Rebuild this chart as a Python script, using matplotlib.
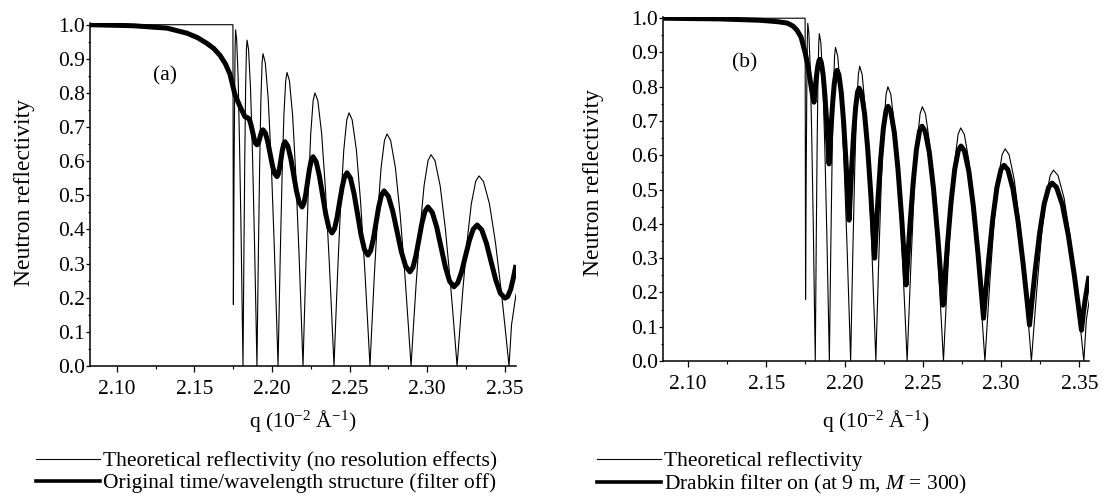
import matplotlib
matplotlib.use("Agg")
import matplotlib.pyplot as plt
from matplotlib.ticker import MultipleLocator, FormatStrFormatter
from matplotlib.lines import Line2D

plt.rcParams['font.family'] = ['Liberation Serif', 'DejaVu Serif']
plt.rcParams['mathtext.fontset'] = 'custom'
plt.rcParams['mathtext.rm'] = 'Liberation Serif'
plt.rcParams['mathtext.it'] = 'Liberation Serif:italic'

# ---------------- data ----------------
# Theoretical reflectivity (no resolution effects), q in 1e-2 1/A
theory_q = [2.0826, 2.1748, 2.1751, 2.1755, 2.1759, 2.1762, 2.1765,
            2.1772, 2.1782, 2.1791, 2.1801, 2.1808, 2.1813,
            2.18156, 2.18195, 2.18247, 2.18299, 2.18351, 2.1839,
            2.18486, 2.18614, 2.18742, 2.18870, 2.18966, 2.1903,
            2.19069, 2.19128, 2.19206, 2.19284, 2.19362, 2.1942,
            2.19566, 2.19760, 2.19954, 2.20148, 2.20293, 2.2039,
            2.20448, 2.20535, 2.20651, 2.20767, 2.20883, 2.2097,
            2.21125, 2.21331, 2.21537, 2.21743, 2.21897, 2.2200,
            2.22077, 2.22193, 2.22347, 2.22501, 2.22655, 2.2277,
            2.22955, 2.23201, 2.23447, 2.23693, 2.23877, 2.2400,
            2.24097, 2.24243, 2.24437, 2.24631, 2.24825, 2.2497,
            2.25173, 2.25443, 2.25713, 2.25983, 2.26185, 2.2632,
            2.26430, 2.26595, 2.26815, 2.27035, 2.27255, 2.2742,
            2.27653, 2.27963, 2.28273, 2.28583, 2.28815, 2.2897,
            2.29099, 2.29293, 2.29551, 2.29809, 2.30067, 2.3026,
            2.30512, 2.30848, 2.31184, 2.31520, 2.31772, 2.3194,
            2.32081, 2.32293, 2.32575, 2.32857, 2.33139, 2.3335,
            2.33641, 2.34029, 2.34417, 2.34805, 2.35096, 2.3529,
            2.3545, 2.3574]
theory_r = [1.000, 1.000, 0.180, 0.550, 0.800, 0.930, 0.985,
            0.957, 0.840, 0.639, 0.377, 0.154, 0.000,
            0.149, 0.366, 0.620, 0.815, 0.928, 0.955,
            0.928, 0.815, 0.620, 0.366, 0.149, 0.000,
            0.143, 0.350, 0.594, 0.780, 0.889, 0.915,
            0.889, 0.780, 0.594, 0.350, 0.143, 0.000,
            0.134, 0.329, 0.558, 0.734, 0.836, 0.860,
            0.836, 0.734, 0.558, 0.329, 0.134, 0.000,
            0.125, 0.306, 0.519, 0.682, 0.778, 0.800,
            0.778, 0.682, 0.519, 0.306, 0.125, 0.000,
            0.116, 0.284, 0.482, 0.633, 0.721, 0.742,
            0.721, 0.633, 0.482, 0.284, 0.116, 0.000,
            0.106, 0.260, 0.441, 0.580, 0.661, 0.680,
            0.661, 0.580, 0.441, 0.260, 0.106, 0.000,
            0.097, 0.237, 0.402, 0.528, 0.602, 0.619,
            0.602, 0.528, 0.402, 0.237, 0.097, 0.000,
            0.087, 0.213, 0.361, 0.475, 0.541, 0.557,
            0.541, 0.475, 0.361, 0.213, 0.087, 0.000,
            0.120, 0.210]

# (a) Original time/wavelength structure (filter off)
orig_q = [2.0826, 2.1103, 2.1323, 2.1452, 2.1520, 2.1581, 2.1625, 2.1665, 2.1700,
          2.1729, 2.1761, 2.1794, 2.1826, 2.1845,
          2.18547, 2.18643, 2.18740, 2.18837, 2.18933, 2.1903,
          2.19095, 2.19160, 2.19225, 2.19290, 2.19355, 2.1942,
          2.19570, 2.19720, 2.19870, 2.20020, 2.20170, 2.2032,
          2.20407, 2.20493, 2.20580, 2.20667, 2.20753, 2.2084,
          2.21023, 2.21207, 2.21390, 2.21573, 2.21757, 2.2194,
          2.22058, 2.22177, 2.22295, 2.22413, 2.22532, 2.2265,
          2.22853, 2.23057, 2.23260, 2.23463, 2.23667, 2.2387,
          2.24032, 2.24193, 2.24355, 2.24517, 2.24678, 2.2484,
          2.25065, 2.25290, 2.25515, 2.25740, 2.25965, 2.2619,
          2.26363, 2.26537, 2.26710, 2.26883, 2.27057, 2.2723,
          2.27508, 2.27787, 2.28065, 2.28343, 2.28622, 2.2890,
          2.29093, 2.29287, 2.29480, 2.29673, 2.29867, 2.3006,
          2.30340, 2.30620, 2.30900, 2.31180, 2.31460, 2.3174,
          2.31988, 2.32237, 2.32485, 2.32733, 2.32982, 2.3323,
          2.33530, 2.33830, 2.34130, 2.34430, 2.34730, 2.3503,
          2.3520, 2.3540, 2.3557, 2.3574]
orig_r = [1.000, 0.997, 0.990, 0.975, 0.962, 0.945, 0.930, 0.910, 0.885,
          0.855, 0.795, 0.760, 0.730, 0.727,
          0.722, 0.707, 0.688, 0.668, 0.653, 0.648,
          0.651, 0.659, 0.670, 0.681, 0.689, 0.692,
          0.683, 0.658, 0.624, 0.589, 0.564, 0.555,
          0.562, 0.581, 0.606, 0.632, 0.650, 0.657,
          0.644, 0.609, 0.562, 0.514, 0.479, 0.466,
          0.476, 0.503, 0.540, 0.576, 0.603, 0.613,
          0.598, 0.557, 0.502, 0.446, 0.405, 0.390,
          0.402, 0.434, 0.478, 0.522, 0.554, 0.566,
          0.550, 0.506, 0.446, 0.385, 0.341, 0.325,
          0.338, 0.372, 0.419, 0.466, 0.500, 0.513,
          0.497, 0.454, 0.395, 0.335, 0.292, 0.276,
          0.289, 0.324, 0.371, 0.419, 0.453, 0.466,
          0.450, 0.408, 0.349, 0.291, 0.248, 0.232,
          0.244, 0.277, 0.323, 0.368, 0.401, 0.413,
          0.399, 0.360, 0.306, 0.253, 0.213, 0.199,
          0.203, 0.225, 0.258, 0.296]

# (b) Drabkin filter on (at 9 m, M = 300)
drab_q = [2.0840, 2.1200, 2.1460, 2.1569, 2.1633, 2.1671, 2.1696, 2.1722, 2.1748,
          2.1767, 2.1790, 2.1805,
          2.18088, 2.18145, 2.18221, 2.18297, 2.18373, 2.1843,
          2.18517, 2.18633, 2.18749, 2.18865, 2.18952, 2.1901,
          2.19061, 2.19138, 2.19240, 2.19342, 2.19444, 2.1952,
          2.19636, 2.19790, 2.19944, 2.20098, 2.20213, 2.2029,
          2.20354, 2.20450, 2.20578, 2.20706, 2.20834, 2.2093,
          2.21079, 2.21277, 2.21475, 2.21673, 2.21821, 2.2192,
          2.22006, 2.22135, 2.22307, 2.22479, 2.22651, 2.2278,
          2.22953, 2.23183, 2.23413, 2.23643, 2.23815, 2.2393,
          2.24032, 2.24185, 2.24389, 2.24593, 2.24797, 2.2495,
          2.25151, 2.25419, 2.25687, 2.25955, 2.26156, 2.2629,
          2.26405, 2.26578, 2.26808, 2.27038, 2.27268, 2.2744,
          2.27656, 2.27944, 2.28232, 2.28520, 2.28736, 2.2888,
          2.29011, 2.29208, 2.29470, 2.29732, 2.29994, 2.3019,
          2.30435, 2.30761, 2.31087, 2.31413, 2.31657, 2.3182,
          2.31964, 2.32180, 2.32468, 2.32756, 2.33044, 2.3326,
          2.33542, 2.33918, 2.34294, 2.34670, 2.34952, 2.3514,
          2.3526, 2.3538, 2.3550, 2.3562]
drab_r = [1.000, 0.998, 0.994, 0.990, 0.986, 0.977, 0.965, 0.945, 0.900,
          0.860, 0.790, 0.755,
          0.775, 0.803, 0.836, 0.862, 0.877, 0.880,
          0.871, 0.835, 0.773, 0.692, 0.623, 0.575,
          0.618, 0.680, 0.752, 0.808, 0.840, 0.848,
          0.836, 0.784, 0.695, 0.578, 0.479, 0.411,
          0.471, 0.558, 0.661, 0.739, 0.785, 0.796,
          0.782, 0.723, 0.622, 0.490, 0.377, 0.300,
          0.369, 0.470, 0.588, 0.678, 0.731, 0.743,
          0.728, 0.666, 0.560, 0.422, 0.303, 0.222,
          0.294, 0.399, 0.522, 0.617, 0.672, 0.685,
          0.670, 0.608, 0.502, 0.363, 0.244, 0.163,
          0.235, 0.341, 0.464, 0.559, 0.614, 0.627,
          0.613, 0.553, 0.451, 0.317, 0.203, 0.125,
          0.195, 0.296, 0.414, 0.505, 0.559, 0.571,
          0.558, 0.502, 0.407, 0.283, 0.178, 0.105,
          0.170, 0.264, 0.374, 0.458, 0.507, 0.519,
          0.507, 0.456, 0.368, 0.254, 0.157, 0.090,
          0.140, 0.180, 0.214, 0.248]

x_ticks = [2.10, 2.15, 2.20, 2.25, 2.30, 2.35]
panel_labels = ["(a)", "(b)"]
legend_a = ["Theoretical reflectivity (no resolution effects)",
            "Original time/wavelength structure (filter off)"]
legend_b = ["Theoretical reflectivity",
            r"Drabkin filter on (at 9 m, $\mathit{M}$ = 300)"]
ylabel = "Neutron reflectivity"
xlabel = r"q (10$^{-2}$ Å$^{-1}$)"

# ---------------- figure ----------------
W, H = 1103, 496
fig = plt.figure(figsize=(W / 100, H / 100), dpi=100)

def px_axes(l, r, t, b):
    return fig.add_axes([l / W, 1 - b / H, (r - l) / W, (b - t) / H])

ax_a = px_axes(90, 516, 23, 366)
ax_b = px_axes(663, 1089, 16.5, 361)

FS = 15.5
LFS = 15.5
YFS = 17
thin_lw = 0.8
thick_lw = 3.6

panels = [
    (ax_a, orig_q, orig_r, (2.0826, 2.3574), panel_labels[0], (0.176, 0.845), legend_a, 36),
    (ax_b, drab_q, drab_r, (2.0840, 2.3562), panel_labels[1], (0.192, 0.865), legend_b, 597),
]

for ax, sq, sr, xl, plab, ppos, leg, legx in panels:
    ax.plot(theory_q, theory_r, color='black', lw=thin_lw, solid_joinstyle='round')
    ax.plot(sq, sr, color='black', lw=thick_lw, solid_joinstyle='round',
            solid_capstyle='butt')
    ax.set_xlim(*xl)
    ax.set_ylim(0, 1.005)
    for s in ('top', 'right'):
        ax.spines[s].set_visible(False)
    for s in ('left', 'bottom'):
        ax.spines[s].set_linewidth(1.1)
    ax.set_xticks(x_ticks)
    ax.xaxis.set_major_formatter(FormatStrFormatter('%.2f'))
    ax.xaxis.set_minor_locator(MultipleLocator(0.025))
    ax.yaxis.set_major_locator(MultipleLocator(0.1))
    ax.yaxis.set_major_formatter(FormatStrFormatter('%.1f'))
    ax.yaxis.set_minor_locator(MultipleLocator(0.05))
    ax.tick_params(axis='x', which='major', direction='out', length=4, width=0.9,
                   labelsize=FS, pad=6)
    ax.tick_params(axis='x', which='minor', direction='out', length=2.5, width=0.8)
    ax.tick_params(axis='y', which='major', direction='out', length=2.8, width=0.9,
                   labelsize=FS, pad=1)
    ax.tick_params(axis='y', which='minor', direction='out', length=1.6, width=0.8)
    ax.text(ppos[0], ppos[1], plab, transform=ax.transAxes, fontsize=FS,
            ha='center', va='center')

    handles = [Line2D([], [], color='black', lw=0.8),
               Line2D([], [], color='black', lw=2.6)]
    fig.legend(handles, leg, loc='upper left',
               bbox_to_anchor=(legx / W, 1 - 451 / H), bbox_transform=fig.transFigure,
               frameon=False, fontsize=LFS, handlelength=2.95, handletextpad=0.15,
               labelspacing=0.1, borderpad=0, borderaxespad=0)

fig.text(25 / W, 1 - 193 / H, ylabel, rotation=90, ha='center', va='center', fontsize=YFS)
fig.text(593 / W, 1 - 182 / H, ylabel, rotation=90, ha='center', va='center', fontsize=YFS)
fig.text(303 / W, 1 - 421 / H, xlabel, ha='center', va='center', fontsize=FS)
fig.text(876 / W, 1 - 421 / H, xlabel, ha='center', va='center', fontsize=FS)

fig.savefig("out.png", dpi=100)
